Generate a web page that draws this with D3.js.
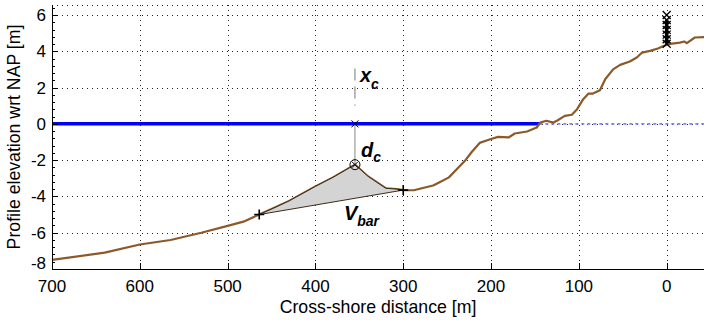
<!DOCTYPE html>
<html>
<head>
<meta charset="utf-8">
<script src="https://cdn.jsdelivr.net/npm/d3@7"></script>
<style>
  html, body { margin: 0; padding: 0; background: #fff; }
  svg { display: block; font-family: "Liberation Sans", Arial, Helvetica, sans-serif; }
</style>
</head>
<body>
<svg id="chart" width="704" height="320"></svg>
<script>
// Cross-shore bed profile (distance from reference line [m], elevation wrt NAP [m])
const profileX = [700, 640, 600, 565, 530, 500, 482, 464, 450, 430, 400, 380, 355,
                  340, 320, 307, 300, 288, 266, 258, 248, 238, 230, 222, 213, 201,
                  192, 180, 173, 159, 148, 144, 137, 129, 125, 116, 108, 102, 95,
                  89, 84, 76, 70, 61, 53, 42, 34, 28, 19, 10, 5, -2, -15, -20,
                  -23, -32, -50];
const profileZ = [-7.5, -7.1, -6.65, -6.4, -6.0, -5.62, -5.39, -5.0, -4.7, -4.25, -3.45, -2.95, -2.25,
                  -2.9, -3.55, -3.6, -3.65, -3.66, -3.4, -3.2, -2.95, -2.45, -2.05, -1.55, -1.05, -0.85,
                  -0.72, -0.75, -0.53, -0.42, -0.2, 0.07, 0.17, 0.07, 0.17, 0.44, 0.5, 0.81, 1.36,
                  1.67, 1.67, 1.85, 2.46, 3.0, 3.25, 3.44, 3.66, 3.93, 4.02, 4.15, 4.26, 4.39, 4.48, 4.54,
                  4.45, 4.76, 4.8];

// Still-water level (NAP 0) and the point where it meets the profile
const waterLevel = 0;
const waterlineX = 145;

// Bar characteristics
const barStartX = 464, barStartZ = -5.0;
const barEndX = 300,   barEndZ = -3.65;
const crestX = 355,    crestZ = -2.25;

// Dune-foot markers stacked at x = 0
const markerX = 0;
const markerZ = [6.0, 5.72, 5.45, 5.18, 4.92, 4.66, 4.42];

// Axis ticks
const xTicks = [700, 600, 500, 400, 300, 200, 100, 0];
const yTicks = [-8, -6, -4, -2, 0, 2, 4, 6];

const svg = d3.select("#chart");
const margin = { left: 52, top: 5, bottom: 269 };
const x = d3.scaleLinear().domain([700, -50]).range([margin.left, margin.left + 750 * 0.8781]);
const y = d3.scaleLinear().domain([-8, 6]).range([margin.bottom, 15]);
const plotRight = 704;

// Grid
const gridG = svg.append("g").attr("stroke", "#222").attr("stroke-width", 1)
  .attr("stroke-dasharray", "1,4").attr("shape-rendering", "crispEdges");
xTicks.slice(1).forEach(t => {
  gridG.append("line").attr("x1", Math.round(x(t)) + 0.5).attr("x2", Math.round(x(t)) + 0.5)
    .attr("y1", margin.top).attr("y2", margin.bottom);
});
yTicks.slice(1).forEach(t => {
  gridG.append("line").attr("x1", margin.left).attr("x2", plotRight)
    .attr("y1", Math.round(y(t)) + 0.5).attr("y2", Math.round(y(t)) + 0.5);
});
// upper edge of the axes box
gridG.append("line").attr("x1", margin.left).attr("x2", plotRight)
  .attr("y1", margin.top + 0.5).attr("y2", margin.top + 0.5);

// Water level: solid seaward of the waterline, dotted landward
svg.append("line").attr("x1", x(700)).attr("x2", x(waterlineX))
  .attr("y1", y(waterLevel)).attr("y2", y(waterLevel))
  .attr("stroke", "#0000ff").attr("stroke-width", 3.5);
svg.append("line").attr("x1", x(waterlineX)).attr("x2", plotRight)
  .attr("y1", y(waterLevel)).attr("y2", y(waterLevel))
  .attr("stroke", "#8080ff").attr("stroke-width", 1.6).attr("stroke-dasharray", "3,3");

// Profile
const line = d3.line().x((d, i) => x(profileX[i])).y((d, i) => y(profileZ[i]));
svg.append("path").datum(profileZ).attr("d", line)
  .attr("fill", "none").attr("stroke", "#8b5a2b").attr("stroke-width", 2.2)
  .attr("stroke-linejoin", "round");

// Bar volume: profile between the bar start and end, closed by a straight chord
const barIdx = d3.range(profileX.length).filter(i => profileX[i] <= barStartX && profileX[i] >= barEndX);
const barPts = barIdx.map(i => [x(profileX[i]), y(profileZ[i])]);
svg.append("path")
  .attr("d", d3.line()(barPts) + "Z")
  .attr("fill", "#d4d4d4").attr("stroke", "#3a2a18").attr("stroke-width", 1)
  .attr("stroke-linejoin", "round");

// Crest position x_c (dashed) and depth d_c (solid) indicators
svg.append("line").attr("x1", x(crestX)).attr("x2", x(crestX))
  .attr("y1", y(3.05)).attr("y2", y(1.0))
  .attr("stroke", "#777").attr("stroke-width", 1).attr("stroke-dasharray", "12,6");
svg.append("line").attr("x1", x(crestX)).attr("x2", x(crestX))
  .attr("y1", y(waterLevel)).attr("y2", y(crestZ))
  .attr("stroke", "#888").attr("stroke-width", 1);

// Marker helpers
function plus(cx, cy, s) {
  return `M${cx - s},${cy}H${cx + s}M${cx},${cy - s}V${cy + s}`;
}
function cross(cx, cy, s) {
  return `M${cx - s},${cy - s}L${cx + s},${cy + s}M${cx - s},${cy + s}L${cx + s},${cy - s}`;
}

const mk = svg.append("g").attr("stroke", "#000").attr("fill", "none");
mk.append("path").attr("d", plus(x(barStartX), y(barStartZ), 5)).attr("stroke-width", 1.6);
mk.append("path").attr("d", plus(x(barEndX), y(barEndZ), 5)).attr("stroke-width", 1.6);
mk.append("path").attr("d", cross(x(crestX), y(waterLevel), 3.5)).attr("stroke-width", 1);
mk.append("circle").attr("cx", x(crestX)).attr("cy", y(crestZ)).attr("r", 5).attr("stroke-width", 1);
mk.append("path").attr("d", cross(x(crestX), y(crestZ), 3)).attr("stroke-width", 1);

// Dune-foot marker stack
mk.append("line").attr("x1", x(markerX)).attr("x2", x(markerX))
  .attr("y1", y(d3.min(markerZ))).attr("y2", y(5.75)).attr("stroke-width", 3.5);
markerZ.forEach(z => {
  mk.append("path").attr("d", cross(x(markerX), y(z), 4)).attr("stroke-width", 1.3);
});

// Annotations
function label(px, py, main, sub, size, subSize, subDy) {
  const t = svg.append("text").attr("x", px).attr("y", py)
    .attr("font-weight", "bold").attr("font-style", "italic")
    .attr("font-size", size).attr("fill", "#000");
  t.append("tspan").text(main);
  t.append("tspan").attr("font-size", subSize).attr("dy", subDy).text(sub);
}
label(x(crestX) + 5, 82, "x", "c", 20, 14, 7);
label(x(crestX) + 6, 157, "d", "c", 20, 14, 5);
label(x(crestX) - 11, 220, "V", "bar", 20, 14, 6);

// Axes
const axisG = svg.append("g").attr("stroke", "#000").attr("shape-rendering", "crispEdges");
axisG.append("line").attr("x1", margin.left + 0.5).attr("x2", margin.left + 0.5)
  .attr("y1", margin.top).attr("y2", margin.bottom + 0.5);
axisG.append("line").attr("x1", margin.left).attr("x2", plotRight)
  .attr("y1", margin.bottom + 0.5).attr("y2", margin.bottom + 0.5);

// x ticks (inward)
xTicks.forEach(t => {
  const px = Math.round(x(t)) + 0.5;
  axisG.append("line").attr("x1", px).attr("x2", px)
    .attr("y1", margin.bottom).attr("y2", margin.bottom - 6);
});
// y ticks (inward) with minor ticks every 0.4 m
d3.range(-8, 6.5 + 1e-9, 0.4).forEach(t => {
  const py = Math.round(y(t)) + 0.5;
  const major = yTicks.some(v => Math.abs(v - t) < 1e-6);
  axisG.append("line").attr("x1", margin.left).attr("x2", margin.left + (major ? 6 : 3))
    .attr("y1", py).attr("y2", py);
});

// Tick labels
const fontSize = 17;
svg.append("g").selectAll("text").data(xTicks).join("text")
  .attr("x", d => x(d)).attr("y", 292).attr("text-anchor", "middle")
  .attr("font-size", fontSize).text(d => d3.format("d")(d));
svg.append("g").selectAll("text").data(yTicks).join("text")
  .attr("x", 46).attr("y", d => y(d) + 6 - (d === -8 ? 6 : 0)).attr("text-anchor", "end")
  .attr("font-size", fontSize).text(d => d3.format("d")(d).replace("−", "-"));

// Axis titles
svg.append("text").attr("x", 378).attr("y", 313).attr("text-anchor", "middle")
  .attr("font-size", 17.7).text("Cross-shore distance [m]");
svg.append("text").attr("transform", "translate(20,137) rotate(-90)")
  .attr("text-anchor", "middle").attr("font-size", 17.7).text("Profile elevation wrt NAP [m]");
</script>
</body>
</html>
